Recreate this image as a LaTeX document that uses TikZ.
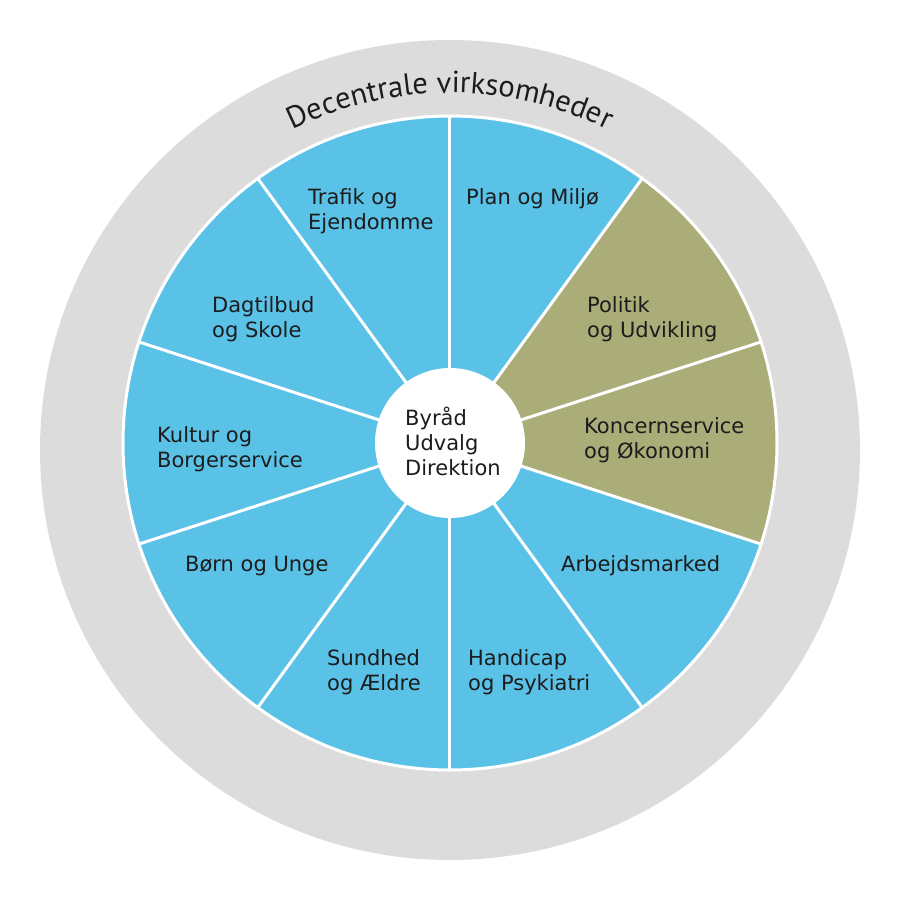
\documentclass[tikz,border=0pt]{standalone}
\usepackage{fontspec}
\setmainfont{DejaVu Sans}
\newfontfamily\ringfont{PT Sans}
\usepackage{tikz}
\usetikzlibrary{positioning, decorations.text}
\definecolor{wheelblue}{HTML}{5BC2E7}
\definecolor{wheelolive}{HTML}{AAAD78}
\definecolor{ringgrey}{HTML}{DCDCDC}
\definecolor{labelink}{HTML}{1C1C1C}
\tikzstyle{enhed}=[anchor=base west, inner sep=0pt, align=left, text=labelink, font=\fontsize{21}{25}\selectfont]
\tikzstyle{spoke}=[white, line width=3pt]
\newcommand{\enhed}{\node[enhed]}

\begin{document}
\begin{tikzpicture}[x=1pt, y=1pt]
  \useasboundingbox[fill=white] (-450,-450) rectangle (450,450);
  \fill[ringgrey] (0,0) circle (410);
  \coordinate (w) at (0,7);
  % ten wedges, two of them olive
  \foreach \a/\c in {90/wheelblue, 54/wheelolive, 18/wheelolive, -18/wheelblue, -54/wheelblue,
                     -90/wheelblue, -126/wheelblue, -162/wheelblue, 162/wheelblue, 126/wheelblue}
    \fill[\c] (w) -- ++(\a:327) arc (\a:\a-36:327) -- cycle;
  \draw[spoke] (w) circle (327);
  \foreach \a in {90,54,...,-234}
    \draw[spoke] (w) -- ++(\a:327);
  \node[circle, fill=white, minimum size=150pt, inner sep=0pt] (hub) at (w) {};
  \path[decorate, decoration={text along path, text align=center, text color=labelink,
        text={|\ringfont\fontsize{30.5}{30.5}\selectfont|Decentrale virksomheder}}]
    (160:357) arc (160:20:357);

  % base anchor sits on the last line
  \enhed (hubtext) at (-45,-25) {Byråd\\Udvalg\\Direktion};
  \enhed (trafik) at (-142,220) {Trafik og\\Ejendomme};
  \enhed (plan) at (16,245) {Plan og Miljø};
  \enhed (dagtilbud) at (-238,112) {Dagtilbud\\og Skole};
  \enhed (politik) at (137,112) {Politik\\og Udvikling};
  \enhed (kultur) at (-293,-17) {Kultur og\\Borgerservice};
  \enhed (koncern) at (134,-8) {Koncernservice\\og Økonomi};
  \enhed (boern) at (-265,-121) {Børn og Unge};
  \enhed (arbejde) at (111,-121) {Arbejdsmarked};
  \enhed (sundhed) at (-123,-240) {Sundhed\\og Ældre};
  \enhed (handicap) at (18,-240) {Handicap\\og Psykiatri};
\end{tikzpicture}
\end{document}
